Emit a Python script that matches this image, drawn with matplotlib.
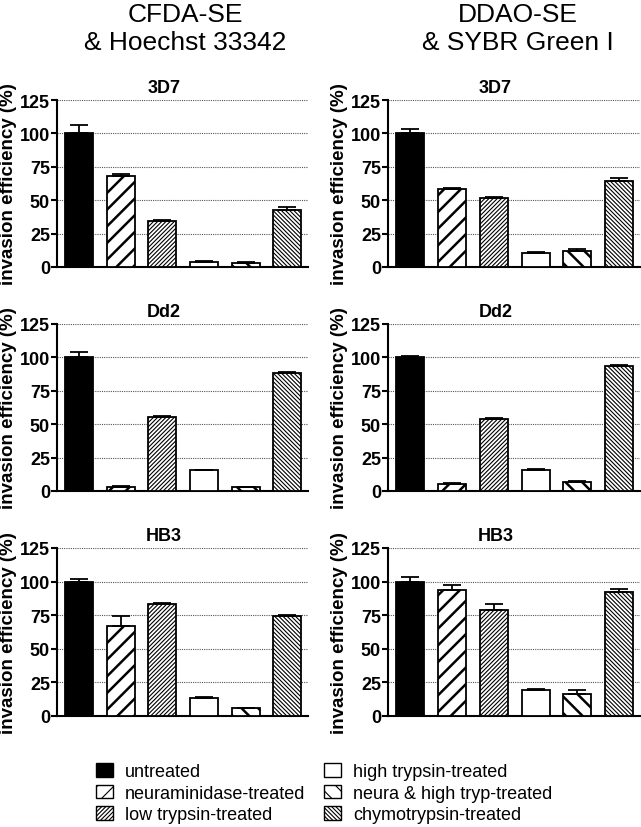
import numpy as np
import matplotlib
matplotlib.use('Agg')
import matplotlib.pyplot as plt
from matplotlib.patches import Patch

plt.rcParams['font.family'] = ['Liberation Sans', 'DejaVu Sans']
plt.rcParams['hatch.linewidth'] = 0.8

treatments = ['untreated', 'neuraminidase-treated', 'low trypsin-treated',
              'high trypsin-treated', 'neura & high tryp-treated', 'chymotrypsin-treated']
strains = ['3D7', 'Dd2', 'HB3']
dyes = ['CFDA-SE\n& Hoechst 33342', 'DDAO-SE\n& SYBR Green I']

# CFDA-SE & Hoechst 33342
cfda_3d7 = [100, 68.3, 34.4, 4.0, 3.0, 42.4]
cfda_3d7_err = [6.3, 1.3, 1.0, 0.3, 0.4, 2.5]
cfda_dd2 = [100, 3.0, 55.7, 15.4, 2.7, 88.6]
cfda_dd2_err = [4.0, 0.7, 0.3, 0.3, 0.4, 0.3]
cfda_hb3 = [100, 66.8, 83.7, 13.2, 5.7, 74.7]
cfda_hb3_err = [1.7, 7.7, 0.6, 1.3, 0.5, 0.8]

# DDAO-SE & SYBR Green I
ddao_3d7 = [100, 58.4, 51.5, 10.2, 12.2, 64.3]
ddao_3d7_err = [3.0, 1.0, 0.7, 1.0, 1.2, 2.4]
ddao_dd2 = [100, 5.5, 53.7, 15.8, 6.5, 93.4]
ddao_dd2_err = [1.2, 0.3, 1.0, 0.8, 1.0, 0.8]
ddao_hb3 = [100, 94.0, 79.2, 19.2, 16.7, 92.0]
ddao_hb3_err = [3.7, 3.5, 3.8, 1.0, 2.5, 2.5]

panels = [[(cfda_3d7, cfda_3d7_err), (ddao_3d7, ddao_3d7_err)],
          [(cfda_dd2, cfda_dd2_err), (ddao_dd2, ddao_dd2_err)],
          [(cfda_hb3, cfda_hb3_err), (ddao_hb3, ddao_hb3_err)]]

faces = ['black', 'white', 'white', 'white', 'white', 'white']
hatches = [None, '//', '////////', None, '\\\\', '\\\\\\\\\\\\\\\\']
hatch_lw = [0.8, 1.8, 0.8, 0.8, 1.8, 0.8]


def style_hatch(p, lw):
    if hasattr(p, 'set_hatch_linewidth'):
        p.set_hatch_linewidth(lw)


fig = plt.figure(figsize=(6.41, 8.28), dpi=100)
W, H = 641.0, 828.0
col_x = [(57, 251), (388, 252)]
row_y = [(101, 268), (325, 492), (549, 717)]

x = np.arange(len(treatments))
for r in range(3):
    for c in range(2):
        x0, w = col_x[c]
        top, bot = row_y[r]
        ax = fig.add_axes([x0 / W, 1 - bot / H, w / W, (bot - top) / H])
        vals, errs = panels[r][c]
        bars = ax.bar(x, vals, width=0.67, color=faces, edgecolor='black',
                      linewidth=1.3, zorder=3)
        for b, h, lw in zip(bars, hatches, hatch_lw):
            if h:
                b.set_hatch(h)
                style_hatch(b, lw)
        ax.errorbar(x, vals, yerr=[np.zeros(len(errs)), errs], fmt='none',
                    ecolor='black', elinewidth=1.3, capsize=6.5, capthick=1.3, zorder=4)
        ax.set_xlim(-0.53, 5.5)
        ax.set_ylim(0, 125)
        ax.set_yticks([0, 25, 50, 75, 100, 125])
        ax.yaxis.grid(True, linestyle=(0, (1, 1)), color='#555555', linewidth=0.8, zorder=0)
        ax.set_axisbelow(True)
        ax.set_xticks([])
        for s in ['top', 'right']:
            ax.spines[s].set_visible(False)
        for s in ['left', 'bottom']:
            ax.spines[s].set_linewidth(1.5)
        ax.tick_params(axis='y', direction='out', length=4, width=1.5, pad=1,
                       labelsize=13)
        for lab in ax.get_yticklabels():
            lab.set_fontweight('bold')
        ax.set_ylabel('invasion efficiency (%)', fontsize=13.5, fontweight='bold')
        ax.yaxis.set_label_coords(-0.159, 0.5)
        # panel title is centred over tick labels + plot area, not the axes alone
        ax.set_title(strains[r], fontsize=13, fontweight='bold', pad=6)
        ax.title.set_position(((164 - 57) / 251, 1.0))

for c in range(2):
    cx = [185, 518][c]
    fig.text(cx / W, 1 - 3 / H, dyes[c], ha='center', va='top',
             fontsize=19, linespacing=1.22)

handles = []
for f, h, lw in zip(faces, hatches, hatch_lw):
    p = Patch(facecolor=f, edgecolor='black', hatch=h, linewidth=1.0)
    if h:
        style_hatch(p, lw)
    handles.append(p)
fig.legend(handles, treatments, loc='upper left', bbox_to_anchor=(96 / W, 1 - 764 / H),
           ncol=2, frameon=False, fontsize=13, handlelength=0.95, handleheight=0.8,
           handletextpad=0.65, columnspacing=1.05, labelspacing=0.24, borderaxespad=0,
           borderpad=0)

fig.savefig('out.png', dpi=100)
